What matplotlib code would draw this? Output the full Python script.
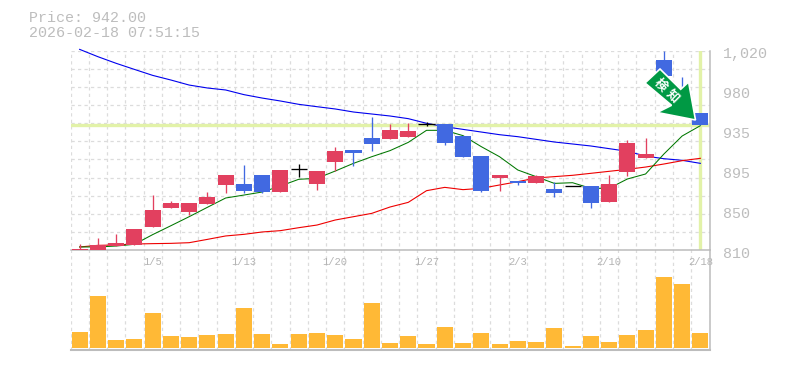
import matplotlib
matplotlib.use("Agg")
import matplotlib.pyplot as plt
from matplotlib.patches import Polygon, Rectangle
from matplotlib.transforms import ScaledTranslation

W, H = 785, 370
FONT = ["Liberation Mono", "DejaVu Sans Mono"]

dates = {4: "1/5", 9: "1/13", 14: "1/20", 19: "1/27", 24: "2/3", 29: "2/10", 34: "2/18"}
price = 942.0
y_ticks = [1020, 978, 936, 894, 852, 810]
y_labels = ["1,020", "980", "935", "895", "850", "810"]

opens = [810, 810, 814.2, 815.3, 834.2, 854.3, 850, 858.5, 878.5, 879.5, 889, 871.1, 895.3, 879.5, 902.7, 915.4, 928, 926.9, 929, 942.4, 942.8, 930.1, 909, 885.9, 882.7, 880.6, 874.3, 877.4, 877.4, 860.6, 892.2, 906.9, 1010.2, 976.5, 954.3]
closes = [811, 815.3, 817.4, 832.1, 852.1, 859.5, 859.5, 865.8, 889, 872.2, 871.1, 894.3, 895.3, 893.2, 914.3, 912.2, 921.7, 936.4, 935.4, 942.4, 922.7, 908, 872.2, 889, 880.6, 888, 870.1, 877.4, 859.5, 879.5, 922.7, 911.1, 993.3, 955.4, 941.7]
highs = [816.3, 822.6, 826.9, 832.1, 867.9, 861.6, 859.5, 871.1, 889, 899.6, 889, 894.3, 900.6, 893.2, 918.5, 915.4, 950.1, 942.8, 943.8, 944.5, 942.8, 930.1, 909, 889, 882.7, 889, 881.6, 877.4, 877.4, 889, 925.9, 928, 1020, 992.3, 954.3]
lows = [810, 810, 814.2, 815.3, 834.2, 854.3, 846.9, 858.5, 870.1, 870.1, 870.1, 871.1, 886.9, 873.2, 893.2, 898.5, 914.3, 926.9, 929, 941, 920.6, 908, 871.1, 872.2, 878.5, 880.6, 865.8, 877.4, 854.3, 860.6, 888, 906.9, 993.3, 955.4, 941.7]
volumes = [48, 156, 24, 27, 105, 36, 33, 39, 42, 120, 42, 12, 42, 45, 39, 27, 135, 15, 36, 12, 63, 15, 45, 12, 21, 18, 60, 6, 36, 18, 39, 54, 213, 192, 45]
ma_short = [813.2, 813.2, 814.2, 816, 826.2, 835.6, 845.1, 855, 864.8, 867.9, 871.1, 877.4, 884.5, 885.5, 893.2, 901.3, 908.3, 914.7, 923.4, 936.1, 936.1, 930.5, 918.9, 908.3, 894.3, 887.3, 880.2, 880.9, 875, 875, 884.8, 890.1, 911.1, 930.1, 941]
ma_mid = [813.2, 814.9, 815.3, 816.3, 816.7, 817, 817.7, 821.2, 824.8, 826.5, 829, 830.4, 833.5, 836.3, 841.6, 845.1, 848.6, 855.3, 860.2, 872.5, 876, 873.6, 875, 878.5, 882, 885.9, 887.3, 888.7, 890.8, 892.9, 895, 897.4, 900.6, 904.1, 906.6]
ma_long = [1021.4, 1013.7, 1006.7, 1000.3, 994, 989.1, 983.8, 980.7, 978.6, 973.7, 970.1, 967, 963.5, 961, 958.6, 955.4, 953.3, 951.2, 948.4, 943.5, 939.9, 937.1, 934.3, 931.5, 929.4, 926.6, 923.8, 921.7, 919.6, 916.8, 914, 909, 906.2, 904.5, 901.3]
arrow_text = ["検", "知"]

fig = plt.figure(figsize=(W / 100, H / 100), dpi=100, facecolor="white")

def axes_px(left, top, right, bottom, **kw):
    return fig.add_axes([left / W, 1 - bottom / H, (right - left) / W, (bottom - top) / H], **kw)

def fp(a, b):
    return (a / W, 1 - b / H)

L, R = 70.5, 709.5
GRID = dict(color="#dcdcdc", lw=0.9, ls=(0, (2.6, 2.6)))
EDGE = "#bcbcbc"
TXT = "#bdbdbd"
n = len(closes)
x = list(range(n))

bg = axes_px(L, 50.7, R, 350, zorder=0)
bg.set_xlim(-0.5, n - 0.5)
bg.set_ylim(0, 1)
bg.axis("off")
for i in range(n + 1):
    bg.axvline(i - 0.5, **GRID)

ax = axes_px(L, 50.7, R, 250, zorder=1)
ax.patch.set_alpha(0)
ax.set_xlim(-0.5, n - 0.5)
ax.set_ylim(810, 1020)
for i in range(12):
    ax.axhline(810 + i * 210 / 11, **GRID, zorder=1)
for s in ["top", "left"]:
    ax.spines[s].set_visible(False)
for s in ["bottom", "right"]:
    ax.spines[s].set_color(EDGE)
    ax.spines[s].set_linewidth(1.1)
ax.yaxis.tick_right()
ax.set_yticks(y_ticks, y_labels, fontfamily=FONT, fontsize=10.8, color=TXT)
ax.set_xticks(list(dates), list(dates.values()), fontfamily=FONT, fontsize=7.6, color="#b4b4b4")
ax.tick_params(length=0)
ax.tick_params(axis="y", pad=10)
ax.tick_params(axis="x", pad=5)
for lab in ax.get_yticklabels():
    lab.set_transform(lab.get_transform() + ScaledTranslation(0, -2 / 100, fig.dpi_scale_trans))

ax.axhline(price, color="#e2f2a8", lw=2.4, zorder=2)
ax.axvline(n - 1, color="#e2f2a8", lw=2.4, zorder=2)
ax.plot(x, ma_long, color="#0000ee", lw=0.8, zorder=3, clip_on=False)
ax.plot(x, ma_mid, color="#ee0000", lw=0.8, zorder=3)
ax.plot(x, ma_short, color="#007700", lw=0.75, zorder=3)

RED, BLUE = "#e2405f", "#4169e1"
for i in x:
    o, c = opens[i], closes[i]
    col = RED if c > o else BLUE if c < o else "black"
    ax.vlines(i, lows[i], highs[i], color=col, lw=0.95, zorder=4)
    if c == o:
        ax.hlines(c, i - 0.44, i + 0.44, color=col, lw=0.95, zorder=4)
    else:
        ax.add_patch(Rectangle((i - 0.44, min(o, c)), 0.88, abs(c - o), fc=col, ec="none", zorder=5))

vol = axes_px(L, 265, R, 348, zorder=1)
vol.patch.set_alpha(0)
vol.set_xlim(-0.5, n - 0.5)
vol.set_ylim(0, 249)
vol.axis("off")
vol.bar(x, volumes, width=0.88, color="#ffb936", zorder=3)

fig.add_artist(plt.Line2D([fp(L, 0)[0], fp(R + 0.5, 0)[0]], [fp(0, 350.3)[1]] * 2, transform=fig.transFigure, color=EDGE, lw=1.5, zorder=6))
fig.add_artist(plt.Line2D([fp(R, 0)[0]] * 2, [fp(0, 250)[1], fp(0, 350.3)[1]], transform=fig.transFigure, color=EDGE, lw=1.1, zorder=6))

arrow_pts = [(660, 69), (645, 83), (671.5, 105.3), (657.2, 112.5), (695.5, 120), (688.6, 82), (680.7, 89.3)]
fig.add_artist(Polygon([fp(*p) for p in arrow_pts], closed=True, transform=fig.transFigure, fc="#009944", ec="white", lw=1.2, zorder=8))
for (a, b), ch in zip([(660.7, 85), (672.7, 96.5)], arrow_text):
    fig.text(*fp(a, b), ch, family=["Noto Sans CJK JP", "DejaVu Sans"], fontsize=9, fontweight="bold", color="white", rotation=-45, rotation_mode="anchor", ha="center", va="center", zorder=9)

fig.text(*fp(29, 18), f"Price: {price:.2f}", family=FONT, fontsize=10.8, color=TXT, va="center")
fig.text(*fp(29, 33), "2026-02-18 07:51:15", family=FONT, fontsize=10.8, color=TXT, va="center")

fig.savefig("out.png", dpi=100)
